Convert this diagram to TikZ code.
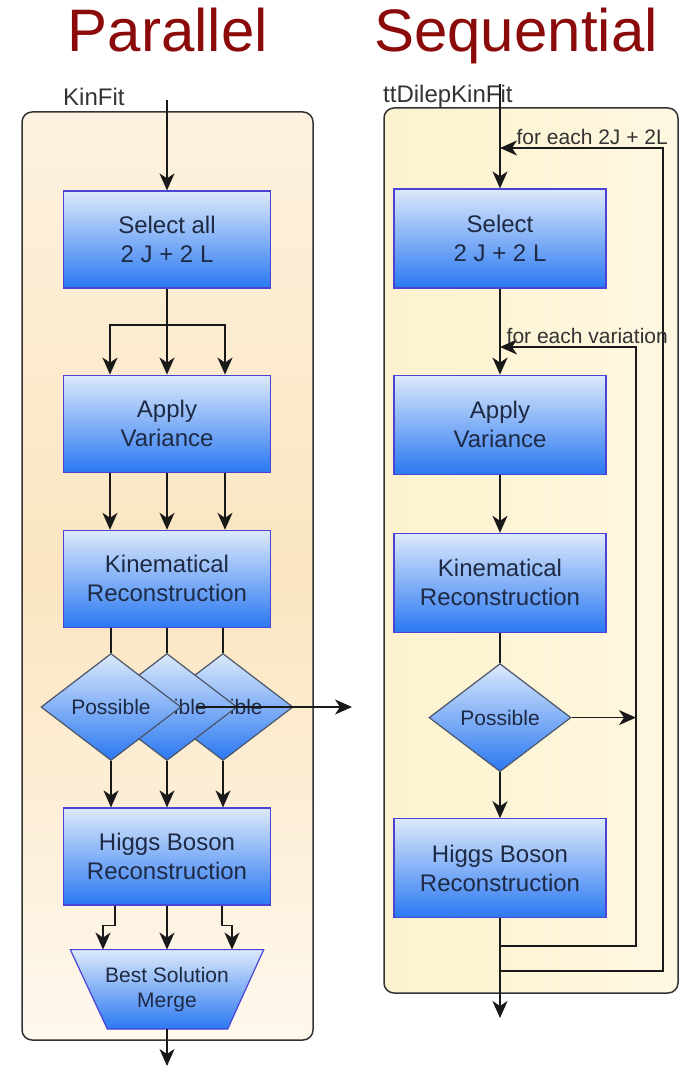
\documentclass[tikz,border=0pt]{standalone}
\usepackage{fontspec}
\setmainfont{Liberation Sans}
\usetikzlibrary{arrows.meta,positioning,shapes.geometric,backgrounds}
\definecolor{titlered}{HTML}{8B0B0B}
\definecolor{boxline}{HTML}{4B43D6}
\definecolor{boxtop}{HTML}{DCE9FB}
\definecolor{boxmid}{HTML}{6AA6F6}
\definecolor{boxbot}{HTML}{2A78F2}
\definecolor{ink}{HTML}{1E2A44}
\definecolor{peach}{HTML}{FBE5C0}
\definecolor{peachlight}{HTML}{FEF8EE}
\definecolor{cream}{HTML}{FCF2CD}
\definecolor{creamlight}{HTML}{FEF8E2}
\tikzset{
  >={Stealth[length=17pt,width=15pt,inset=5pt]},
  stage/.style={draw=boxline,line width=1.2pt,top color=boxtop,middle color=boxmid,bottom color=boxbot,align=center,minimum width=207pt,minimum height=97pt,inner sep=0pt,text=ink,font=\fontsize{24}{29}\selectfont},
  decision/.style={diamond,draw=ink!80,line width=1.2pt,top color=boxtop,middle color=boxmid,bottom color=boxbot,minimum width=140pt,minimum height=107pt,inner sep=0pt,text=ink,font=\fontsize{21}{25}\selectfont},
  mergebox/.style={align=center,minimum width=193pt,minimum height=79pt,inner sep=0pt,text=ink,font=\fontsize{21}{25}\selectfont},
  mergeshape/.style={draw=boxline,line width=1.2pt,top color=boxtop,middle color=boxmid,bottom color=boxbot},
  panel/.style={draw=black!80,line width=1.5pt,rounded corners=10pt,inner sep=0pt},
  heading/.style={text=titlered,font=\fontsize{60}{72}\selectfont,anchor=base},
  tag/.style={text=black!80,font=\fontsize{24}{28}\selectfont,anchor=base west,inner sep=0pt},
  looptag/.style={text=black!80,font=\fontsize{21}{25}\selectfont,anchor=south east,inner sep=1pt},
  flow/.style={->,line width=1.6pt,draw=black!90},
  link/.style={line width=1.6pt,draw=black!90}
}
\begin{document}
\begin{tikzpicture}[x=1pt,y=-1pt]
  \useasboundingbox (0,0) rectangle (686,1067);

  \node[heading] (partitle) at (168,52) {Parallel};
  \node[heading] (seqtitle) at (516,52) {Sequential};

  % parallel column
  \node[stage] (sel1) at (167,239.5) {Select all\\2 J + 2 L};
  \node[stage,below=86pt of sel1] (app1) {Apply\\Variance};
  \node[stage,below=57pt of app1] (kin1) {Kinematical\\Reconstruction};
  \node[decision] (d3) at (223,707) {Possible};
  \node[decision] (d2) at (167,707) {Possible};
  \node[decision] (d1) at (111,707) {Possible};
  \node[stage] (hb1) at (167,856.5) {Higgs Boson\\Reconstruction};
  \node[mergebox,below=44pt of hb1] (best) {Best Solution\\Merge};

  \coordinate (in1) at (167,100);
  \coordinate (br1) at (167,325);
  \coordinate (pout) at (352,707);
  \coordinate (out1) at (167,1066);

  \draw[flow] (in1) -- (sel1.north);
  \draw[link] (sel1.south) -- (br1);
  \draw[flow] (br1) -| ([xshift=-57pt]app1.north);
  \draw[flow] (br1) -- (app1.north);
  \draw[flow] (br1) -| ([xshift=58pt]app1.north);
  \draw[flow] ([xshift=-57pt]app1.south) -- ([xshift=-57pt]kin1.north);
  \draw[flow] (app1.south) -- (kin1.north);
  \draw[flow] ([xshift=58pt]app1.south) -- ([xshift=58pt]kin1.north);
  \draw[link] (kin1.south -| d1.north) -- (d1.north);
  \draw[link] (kin1.south) -- (d2.north);
  \draw[link] (kin1.south -| d3.north) -- (d3.north);
  \draw[flow,shorten <=30pt] (d2.center) -- (pout);
  \draw[flow] (d1.south) -- (d1.south |- hb1.north);
  \draw[flow] (d2.south) -- (hb1.north);
  \draw[flow] (d3.south) -- (d3.south |- hb1.north);
  \draw[flow] ([xshift=-52pt]hb1.south) -- ++(0,20) -| ([xshift=-64pt]best.north);
  \draw[flow] (hb1.south) -- (best.north);
  \draw[flow] ([xshift=55pt]hb1.south) -- ++(0,20) -| ([xshift=65pt]best.north);
  \draw[flow] (best.south) -- (out1);

  % sequential column
  \node[stage,minimum width=212pt,minimum height=99pt] (sel2) at (500,238.5) {Select\\2 J + 2 L};
  \node[stage,minimum width=212pt,minimum height=99pt,below=86pt of sel2] (app2) {Apply\\Variance};
  \node[stage,minimum width=212pt,minimum height=99pt,below=58pt of app2] (kin2) {Kinematical\\Reconstruction};
  \node[decision,minimum width=142pt,minimum height=108pt,below=30pt of kin2] (dec2) {Possible};
  \node[stage,minimum width=212pt,minimum height=99pt,below=46pt of dec2] (hb2) {Higgs Boson\\Reconstruction};

  \coordinate (in2) at (500,84);
  \coordinate (jtop) at (663,148);
  \coordinate (jin) at (500,148);
  \coordinate (vtop) at (636,347);
  \coordinate (vin) at (500,347);
  \coordinate (vj) at (500,946);
  \coordinate (jj) at (500,971);
  \coordinate (out2) at (500,1018);

  \draw[flow] (in2) -- (sel2.north);
  \draw[flow] (sel2.south) -- (app2.north);
  \draw[flow] (app2.south) -- (kin2.north);
  \draw[link] (kin2.south) -- (dec2.north);
  \draw[flow] (dec2.south) -- (hb2.north);
  \draw[flow] (dec2.east) -- (dec2.east -| vtop);
  \draw[flow] (hb2.south) -- (out2);
  \draw[flow] (vj) -| (vtop) -- (vin);
  \draw[flow] (jj) -| (jtop) -- (jin);
  \node[looptag] (lbl1) at (669,146) {for each 2J + 2L};
  \node[looptag] (lbl2) at (669,345) {for each variation};

  \node[tag] (kinfit) at (63,106) {KinFit};
  \node[tag] (ttkinfit) at (383,103) {ttDilepKinFit};

  \begin{scope}[on background layer]
    \node[panel,top color=peach!50!white,bottom color=peachlight,middle color=peach,minimum width=291pt,minimum height=928pt] (parbox) at (167.5,576) {};
    \node[panel,left color=cream,right color=creamlight,minimum width=294pt,minimum height=885pt] (seqbox) at (531,550.5) {};
    \draw[mergeshape] (best.north west) -- (best.north east) -- ([xshift=-36pt]best.south east) -- ([xshift=37pt]best.south west) -- cycle;
  \end{scope}
\end{tikzpicture}
\end{document}
